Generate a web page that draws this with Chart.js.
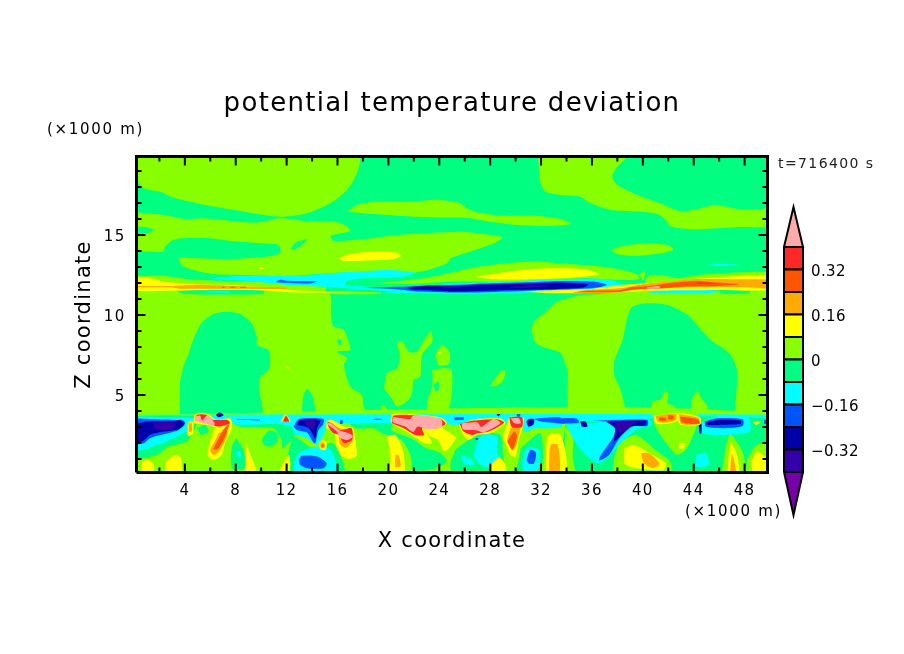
<!DOCTYPE html>
<html>
<head>
<meta charset="utf-8">
<title>potential temperature deviation</title>
<script src="https://cdn.jsdelivr.net/npm/chart.js@4"></script>
<style>
    html, body { margin: 0; padding: 0; background: #fff; }
    #wrap { position: relative; width: 904px; height: 654px; overflow: hidden; }
    #field { position: absolute; left: 0; top: 0; width: 904px; height: 654px; }
    #bar { position: absolute; left: 770px; top: 195px; width: 130px; height: 330px; }
    .note { position: absolute; font-family: "DejaVu Sans"; font-size: 15px; color: #000; white-space: nowrap; line-height: 16px; letter-spacing: 1.7px; }
</style>
</head>
<body>
<div id="wrap">
    <canvas id="field" width="904" height="654"></canvas>
    <canvas id="bar" width="130" height="330"></canvas>
    <div class="note" style="left:47px;top:121px">(×1000 m)</div>
    <div class="note" style="left:685px;top:503px">(×1000 m)</div>
    <div class="note" style="left:778px;top:155px;font-size:14px;letter-spacing:1.4px;color:#222">t=716400 s</div>
</div>
<script>
const titleText = 'potential temperature deviation';
const xTitle = 'X coordinate';
const zTitle = 'Z coordinate';

const xRange = [0.2, 49.8];
const zRange = [0.15, 19.9];
const xMajorTicks = [4, 8, 12, 16, 20, 24, 28, 32, 36, 40, 44, 48];
const xMinorTicks = [2, 6, 10, 14, 18, 22, 26, 30, 34, 38, 42, 46];
const zMajorTicks = [5, 10, 15];
const zMinorTicks = [1, 2, 3, 4, 6, 7, 8, 9, 11, 12, 13, 14, 16, 17, 18, 19];

// legend, from the bottom triangle up
const levelEdges = [-0.48, -0.4, -0.32, -0.24, -0.16, -0.08, 0, 0.08, 0.16, 0.24, 0.32, 0.4, 0.48];
const levelColors = ['#7700aa', '#3300aa', '#0000aa', '#0055ff', '#00ffff', '#00ff80', '#88ff00', '#ffff00', '#ffaa00', '#ff5500', '#ff2828', '#ffaaaa'];
const barTicks = [-0.32, -0.16, 0, 0.16, 0.32];
const barTickLabels = ['\u22120.32', '\u22120.16', '0', '0.16', '0.32'];
const barRange = [-0.553, 0.542];

const [purple, indigo, darkBlue, blue, cyan, spring, lime, yellow, orange, redOrange, red, pink] = levelColors;

// contours as flat x,z lists in km
const backgroundSpring = [[-1,21, 51,21, 51,-1, -1,-1]];
const upperLime = [
    [-1,21, 17.8,21, 17.8,19.8, 17.53,18.85, 16.75,17.81, 15.43,16.98, 13.6,16.35, 11.76,16.14, 10.2,16.25, 7.56,16.6, 4.93,16.98, 3.1,17.33, 2.05,17.7, 1,17.85, 0.47,18.12, 0.2,18.54, -1,19],
    [-1,16.46, 2.3,16.25, 4.15,15.98, 5.45,16.04, 7.55,15.89, 9.65,15.77, 11.5,16.04, 13.35,15.89, 15.7,15.83, 16.75,15.52, 17,15.25, 16.5,15.14, 15.45,14.94, 15.7,14.64, 17.55,14.69, 20.7,15, 25.65,15.2, 27,15.1, 28.95,14.85, 28.3,14.48, 26.45,13.96, 24.9,13.54, 24.6,13.23, 23.3,12.85, 22.1,12.64, 20.15,12.5, 12.8,12.3, 6.25,12.23, 3.6,12.44, -1,12.5],
    [16.75,16.46, 17.55,16.87, 19.1,17.08, 22,17.08, 23.85,17.19, 25.65,16.98, 25.95,16.77, 26.7,16.46, 28.8,16.21, 31.45,16.21, 33.55,15.98, 34.35,15.69, 32.75,15.56, 30.15,15.62, 27.5,15.89, 26.45,16.04, 24.9,16.08, 22,16.14, 18.05,16.35],
    [31.75,21, 31.9,18.43, 32.35,17.71, 33.55,17.5, 35.1,17.39, 35.9,16.98, 37.5,16.56, 39.6,16.46, 41.15,16.31, 41.8,15.94, 42.2,15.52, 44.05,15.35, 47.2,15.48, 51,15.62, 51,16.56, 47.7,16.6, 45.6,16.87, 44.55,16.66, 43,16.46, 41.7,16.87, 39.6,17.5, 38,18.12, 37.6,18.64, 38,19.27, 40,21],
    [37.5,14.06, 38.55,14.33, 40.6,14.48, 41.95,14.37, 42.4,14.1, 41.7,13.89, 39.3,13.69, 38,13.81],
    [-1,12.6, 2.3,12.44, 4.95,12.19, 10.2,12.08, 15,12, 15,11.5, -1,11.5],
    [19.1,11.98, 22.8,12.29, 24.9,12.64, 26.7,12.96, 28.8,13.19, 31.45,13.33, 34.05,13.19, 36.7,13.02, 38.55,12.77, 39.6,12.5, 39.7,12.23, 38,12.19, 35.4,12.29, 30.15,12.08, 24.9,12.08, 22.25,11.94],
    [40.15,12.19, 40.6,12.5, 41.7,12.44, 42.75,12.29, 44.3,12.5, 51,12.6, 51,11.3, 40.35,11.3],
    [39.7,12.56, 40.15,12.71, 40.05,12.19]
];
const midLime = [
    [-1,11.56, 10.2,11.45, 15.3,11.4, 15.5,9.9, 15.7,9.27, 16.5,9.06, 16.9,8.23, 17,7.81, 15.95,7.7, 16.75,7.29, 16.5,6.87, 17,5.52, 17.9,5, 18.05,4.27, 18.3,3.7, -1,3.7],
    [31.25,9.06, 31.45,9.58, 32.25,10.1, 33.3,10.83, 35.4,11.25, 51,11.31, 51,3.75, 47.3,3.75, 47.3,4.48, 47.4,6.56, 46.8,7.6, 45.35,8.43, 43.5,10, 41.95,10.62, 40.35,10.73, 39.2,10.52, 38.8,9.89, 38.4,8.43, 37.75,7.08, 37.75,6.25, 38.25,5.31, 38.5,3.75, 34.35,3.7, 34.05,5.1, 34.1,6.35, 33.55,7.6, 32.75,7.85, 31.6,8.23],
    [19.65,5.41, 19.9,6.35, 20.7,6.66, 20.9,7.5, 20.7,8.23, 21.1,8.33, 21.6,7.7, 22.25,7.7, 22.8,8.43, 23.35,8.96, 23.45,8.33, 22.65,7.5, 22.5,6.14, 22,5.93, 21.85,5.1, 21.6,4.69, 20.7,4.27, 20.15,4.89],
    [19.4,4.27, 19.7,4.31, 20,3.89, 19.65,3.85],
    [23.45,6.56, 24.1,6.66, 24.95,6.56, 24.95,4.89, 24.5,3.75, 23.1,3.75, 23.1,4.69, 23.45,5.52],
    [23.7,7.5, 24.2,8.12, 24.6,7.91, 24.85,7.6, 24.75,6.93, 23.95,6.87],
    [28.05,5.62, 28.85,6.5, 29.2,6.46, 28.95,5.83, 28.3,5.52],
    [40.7,3.75, 40.75,4.58, 41.4,4.69, 41.7,5.21, 42,5.1, 41.95,4.48, 42.5,4.27, 42.75,3.75],
    [43.8,3.75, 43.85,4.69, 44.3,5.21, 44.6,4.79, 45.1,4.27, 45.1,3.75]
];
const upperSpring = [
    [-1,15.56, 1,15.48, 1.55,15.31, 1,15.1, -1,15.06],
    [-1,14, 1.25,13.96, 2.3,13.96, 2.45,14.27, 3.1,14.69, 4.15,14.81, 6,14.79, 8.1,14.58, 10.7,14.44, 11.35,14.37, 11.55,13.96, 10.95,13.69, 7.55,13.48, 4.95,13.54, 3.6,13.54, 3.75,13.12, 4.65,12.81, 6.25,12.56, 8.6,12.5, 12.3,12.44, 15.95,12.64, 18.05,12.5, 16.75,12.08, 10.2,12.08, 4.95,12.19, 2.3,12.44, -1,12.56],
    [12.3,14.1, 12.7,14.52, 13.6,14.73, 13.35,14.48, 12.55,14.06],
    [3.6,3.75, 3.6,4.89, 3.6,5.62, 3.85,6.66, 4.35,7.7, 4.65,8.43, 5.3,9.48, 6.25,10.06, 7.3,10.2, 8.35,10.06, 9.25,9.48, 9.65,8.64, 9.7,8.12, 10.6,7.77, 10.65,6.66, 9.9,6.04, 9.85,5.31, 10,3.75],
    [13.2,3.75, 13.3,4.89, 13.6,5.37, 14.05,4.89, 14.2,3.75],
    [16,8.48, 16.3,8.43, 16.25,8.12, 16.05,8.16],
    [23.55,5.62, 23.95,5.83, 23.95,5.31, 23.7,5.21]
];
const upperYellow = [
    [16.1,13.54, 17,13.81, 19.1,13.96, 20.7,13.89, 21,13.69, 20.4,13.48, 18.05,13.39, 16.5,13.37],
    [9.9,12.94, 10.2,12.94, 10.2,12.87, 9.9,12.87],
    [26.85,12.39, 30.15,12.77, 32.75,12.91, 35.4,12.85, 36.55,12.56, 34.85,12.35, 31.45,12.23, 28.3,12.23],
    [11.95,6.81, 12.25,6.73, 12.15,6.56],
    [23.9,7.7, 24.15,7.7, 24.15,7.6, 23.9,7.6]
];
const upperCyan = [
    [6.1,12.29, 8.35,12.44, 12.8,12.44, 15.95,12.64, 20.15,12.81, 22.1,12.64, 21.2,12.39, 18.05,12.29, 16.75,12.12, 16.6,11.87, 17.8,11.81, 20.7,11.56, 21.6,11.43, 20.7,11.46, 17.55,11.6, 15.7,11.73, 12.3,11.87, 8.85,12.14, 6.25,12.23],
    [23.3,11.81, 24.9,11.94, 26.45,11.98, 30.15,12.12, 33.3,12.23, 37.2,12.23, 38.4,11.87, 36.15,11.6, 32.25,11.46, 29.2,11.35, 24.9,11.31, 19.6,11.4, 20.7,11.46],
    [45.1,13.12, 46.15,13.19, 47.5,13.12, 45.9,13.06],
    [48.5,13.1, 49.55,13.1, 49.55,13.06, 48.5,13.06]
];
const upperBlue = [
    [11.2,12.08, 11.5,12.19, 11.95,12.14, 14.4,12.1, 14,11.98, 12.55,11.98, 11.25,12.02],
    [17.8,11.69, 21.5,11.77, 23.3,11.85, 24.9,11.87, 28.05,11.98, 31.2,12.04, 33.3,12.12, 36.15,12.08, 37.15,11.87, 35.9,11.66, 32.75,11.56, 29.1,11.46, 27,11.4, 24.9,11.4, 22.25,11.46, 20.7,11.6]
];
const upperDarkBlue = [
    [21.5,11.73, 22.8,11.81, 24.9,11.83, 28.05,11.91, 31.2,11.98, 33.55,12.02, 35.7,11.91, 35.4,11.73, 32.75,11.6, 29.6,11.56, 27.1,11.5, 24.9,11.46, 23.7,11.52, 21.75,11.6]
];
const upperIndigo = [
    [24.1,11.73, 24.9,11.79, 26.3,11.77, 24.9,11.66],
    [29.6,11.77, 31.2,11.87, 32.75,11.81, 31.2,11.71, 29.6,11.69]
];
const stripSpring = [
    [3.35,11.48, 5,11.54, 10.2,11.52, 10.2,11.31, 3.9,11.31],
    [45.9,11.56, 48.5,11.48, 48.25,11.33, 46.15,11.33]
];
const stripLime = [[15.5,11.48, 19.4,11.4, 19.4,11.31, 15.5,11.31]];
const stripCyan = [
    [5.7,11.46, 7.55,11.48, 7.55,11.4, 5.85,11.4],
    [40.5,11.46, 41.7,11.56, 45.35,11.6, 46.15,11.46, 44.85,11.35, 40.6,11.35]
];
const bandYellow = [
    [-1,12.39, 1,12.35, 2.3,12.08, 4.95,11.91, 7.55,11.87, 10.2,11.73, 12.3,11.56, 15.45,11.46, 17.15,11.46, 16.5,11.4, 12.8,11.4, 9.65,11.56, 4.95,11.56, -1,11.56],
    [30.55,11.46, 31.45,11.5, 34.05,11.56, 36.15,11.64, 38.25,11.87, 41.15,12.02, 44.85,12.29, 51,12.44, 51,11.62, 45.9,11.56, 41.15,11.52, 38,11.4, 32.75,11.35]
];
const bandOrange = [
    [-1,11.81, 2.95,11.81, 4.65,11.89, 6.25,11.87, 8.85,11.77, 12,11.71, 12,11.62, 8.35,11.64, 3.6,11.64, 2.95,11.73, -1,11.73],
    [34.5,11.37, 35.4,11.54, 38.25,11.66, 39.6,11.87, 41.95,12.08, 43.8,12.23, 47.2,12.23, 51,12.14, 51,11.66, 48,11.73, 43.25,11.73, 41.15,11.66, 38.8,11.56, 38.25,11.41]
];
const bandRedOrange = [
    [6.9,11.75, 7.15,11.75, 7.15,11.69, 6.9,11.69],
    [7.55,11.75, 7.95,11.75, 7.95,11.69, 7.55,11.69],
    [8.35,11.75, 8.85,11.75, 8.85,11.69, 8.35,11.69],
    [34.5,11.41, 35.4,11.5, 38.25,11.56, 39.05,11.73, 40.6,11.81, 41.95,11.98, 44.3,12.12, 45.9,12.02, 47.6,11.91, 45.9,11.81, 43.25,11.77, 41.7,11.66, 39.6,11.6, 38,11.43]
];
const bandRed = [[44.3,12.02, 46,11.98, 44.3,11.94]];
const bandPink = [[40.35,11.73, 41.3,11.81, 41.3,11.66, 40.35,11.64]];

const lowLime = [[-1,3.75, 51,3.75, 51,-1, -1,-1]];
const lowStrip = [[-1,3.75, 51,3.75, 51,3.3, -1,3.3]];
const lowSpring = [
    [-1,3.65, 4.95,3.65, 4.8,2.92, 4.15,2.09, 2.7,1.77, 1.8,1.25, -1,0.98],
    [4.95,2.92, 5.6,3.13, 5.85,2.71, 5.3,2.5],
    [8.05,2.29, 8.6,1.56, 8.75,0.42, 7.7,0.42, 7.7,1.77],
    [10.05,2.19, 10.6,2.77, 11.3,2.6, 11.3,2.09, 10.7,1.77, 10.2,1.88],
    [7.8,3.2, 12.6,3.1, 12.6,2.4, 12,1.9, 11.7,1.6, 11.6,2.2, 11,2.9, 9.5,3, 8.5,3],
    [12,1, 12.6,2.4, 14,1.7, 15.6,2, 16.2,1.3, 16.5,0.1, 12.2,0.1],
    [16.9,3.2, 20.3,3.2, 20.2,2.8, 22,2.2, 22.9,1.7, 24,1.4, 24.6,0.9, 24,0.5, 22.5,0.2, 22,0.1, 21.7,1.3, 21,2.2, 19.5,2.6, 18.85,2.9, 17.5,2.9],
    [25.3,1.6, 26.3,2.2, 27,2.6, 28.8,2.5, 29,1.3, 29.1,0.2, 25,0.2, 24.9,0.8],
    [30.4,1.67, 31.95,2.6, 31.95,0.1, 30.1,0.1, 30.25,0.94],
    [33.9,3.3, 51,3.3, 51,-1, 33.9,-1]
];
const lowHaloLime = [
    [38.15,2, 39.45,2.5, 41,1.56, 42.2,0.73, 41.95,-1, 37.8,-1, 37.75,1.04],
    [33.9,3, 34.5,2.5, 34.5,1, 35,-1, 33.9,-1],
    [40.75,3.8, 44.2,3.8, 44.2,3, 43.4,1.6, 42.7,1.25, 42.05,1.77, 41,3],
    [46,-1, 46.8,2.5, 47.9,1.3, 48,-1],
    [48.2,1, 49,1.9, 51,1.6, 51,-1, 48.2,-1]
];
const lowCyan = [
    [-1,3.65, 4.65,3.54, 4.65,3.13, 3.9,2.6, 2.55,2.09, 1.5,1.77, 0.75,1.56, -1,1.56],
    [7.8,3.65, 12.55,3.65, 12.55,3.02, 11.25,3.23, 9.4,3.13, 8.6,3.13, 7.8,3.19],
    [8.05,1.46, 8.35,1.46, 8.4,1.15, 8.1,1.15],
    [12.4,3.44, 14.9,3.44, 15.05,2.81, 14.4,1.88, 13.6,2.29, 12.55,2.6],
    [12.55,0.73, 12.95,1.36, 14.4,1.77, 15.45,1.56, 15.95,0.52, 15.45,-1, 12.8,-1],
    [27,2.1, 27.4,2.5, 28.55,2.4, 28.55,1.56, 28.7,0.73, 27.5,0.52, 26.7,1.15, 26.9,1.77],
    [25.65,1.25, 26.5,1, 26.7,0.63, 26,0.7],
    [24.4,3.7, 25.9,3.7, 25.9,3.2, 24.6,3.2],
    [30.5,0.73, 30.9,1.67, 31.85,1.56, 31.85,0.52, 30.9,-1],
    [30.65,3.7, 33.6,3.7, 33.6,3, 31.5,2.9, 30.65,2.7],
    [33.95,3.13, 35.8,3.23, 40.35,3.54, 40.75,3.13, 39.45,2.81, 38.15,1.88, 37.35,1.15, 36.55,0.73, 35.65,1.15, 34.75,1.98],
    [44.45,3.23, 45.75,3.65, 48.25,3.65, 48.4,2.71, 46.3,2.5, 44.7,2.6],
    [44.2,1.25, 44.95,1.36, 45.2,0.63, 44.2,0.52]
];
const lowBlue = [
    [-1,3.54, 1.25,3.5, 3.9,3.4, 4,3.23, 3.5,2.81, 2.3,2.54, 1.25,2.29, 0.75,1.98, -1,1.94],
    [8.1,3.5, 9.9,3.46, 9.9,3.4, 8.1,3.44],
    [12.55,3.02, 12.95,3.5, 14.9,3.5, 14.85,3.13, 14.5,2.81, 14.25,1.98, 14.05,2.09, 13.6,2.65, 12.8,2.81],
    [12.95,0.94, 13.2,1.19, 14.4,1.15, 15.15,0.73, 14.9,0.42, 13.6,0.42, 13.05,0.63],
    [16.2,3.4, 16.4,3.4, 16.4,3.2, 16.2,3.2],
    [18.85,3.5, 19.5,3.5, 19.5,3.44, 18.85,3.44],
    [25.2,3.6, 25.9,3.6, 25.9,3.45, 25.2,3.45],
    [26.85,2.3, 27.05,2.3, 27.05,2.19, 26.85,2.19],
    [30.1,3.8, 30.35,3.8, 30.35,3.6, 30.1,3.6],
    [30.85,0.94, 31.15,1.56, 31.6,1.4, 31.45,0.73, 31.05,0.69],
    [31.45,3.5, 33.5,3.6, 33.5,3.27, 32,3.34],
    [33.15,3.54, 34.75,3.54, 35,3.27, 33.15,3.23],
    [36.05,3.4, 40.35,3.44, 40.35,3.06, 39.2,3.02, 38.15,2.29, 37.35,1.25, 36.55,0.9, 36.7,1.25, 37.75,2.5, 37.75,3.23],
    [44.85,3.34, 45.75,3.54, 47.85,3.48, 47.85,3.06, 46.3,2.92, 44.95,3.02],
    [49.55,3.44, 49.85,3.44, 49.85,3.19, 49.55,3.19]
];
const lowDarkBlue = [
    [-1,2.92, 1,3.34, 3.1,3.34, 3.6,3.44, 4,3.19, 3.5,2.86, 2.3,2.71, 1.25,2.5, 0.6,2.09, -1,2.02],
    [6.45,3.75, 6.7,3.9, 7.05,3.75, 6.65,3.6],
    [12.8,3.13, 13.05,3.44, 14.65,3.44, 14.4,2.92, 14.25,2.29, 13.75,2.92],
    [28.5,3.8, 28.8,3.8, 28.65,3.65],
    [30.85,3.34, 31,3.48, 31.45,3.48, 31.4,3.15, 31,3.02],
    [35.1,3.34, 35.5,3.34, 35.65,3.02, 35.2,3.02],
    [37.1,3.34, 40.25,3.4, 40.2,3.1, 39.05,3.02, 37.75,2.09, 37.8,2.92],
    [44.4,3.2, 44.6,3.2, 44.6,2.6, 44.45,2.6],
    [44.95,3.27, 46,3.44, 47.7,3.4, 47.7,3.19, 46.3,3.13, 45,3.13]
];
const lowIndigo = [
    [1.5,3.27, 3.25,3.27, 3.1,2.86, 2.3,2.81, 1.65,2.92],
    [13.35,3.4, 14.25,3.4, 14.1,2.86, 13.6,3.02],
    [37.9,3.34, 39.6,3.34, 38.9,3.02, 38.25,2.6, 37.8,3.02]
];
const lowYellow = [
    [0.6,0.83, 1.15,0.94, 1.6,0.52, 1.25,-1, 0.7,-1],
    [2.45,0.83, 3.25,1.25, 3.7,1.04, 3.75,-1, 2.55,-1],
    [4.15,2.6, 4.3,3.34, 4.65,3.34, 4.65,2.6, 4.3,2.4],
    [4.65,3.23, 4.8,3.81, 5.7,3.85, 6.5,3.44, 7.55,3.54, 7.7,3.13, 6.75,2.92, 5.7,3.13],
    [6.35,2.92, 7.55,3.23, 7.7,2.92, 7.15,1.98, 6.9,1.25, 6.25,0.94, 5.8,1.25, 5.95,1.98],
    [8.85,1.98, 10.05,-1, 8.75,-1],
    [10.6,-1, 12.15,1.25, 12.3,0.73, 12,-1],
    [11.5,3.34, 11.9,3.81, 12.3,3.34],
    [14.5,2, 14.8,2.19, 15.15,2, 15.05,1.56, 14.65,1.6],
    [15.15,3.4, 15.55,3.44, 16.5,3.02, 17.2,2.9, 17.4,2.2, 17.5,1.2, 16.9,1, 16.35,1.15, 15.95,1.67, 15.7,2.81, 15.15,2.92],
    [19.9,2.4, 20.55,2.5, 21.2,1.36, 21.2,-1, 20.15,-1, 20.15,1.25],
    [22.8,2.9, 24,3, 24.9,2.6, 25.3,2.3, 24.7,1.6, 24.35,1.5, 23.9,2.2, 23.3,2.4],
    [20.15,3.44, 20.3,3.81, 21.7,3.81, 24.1,3.6, 24.6,3.23, 23.8,2.81, 22.8,2.92, 23.45,2, 22.8,2, 21.45,2.71, 20.3,3.23],
    [25.55,3.13, 26.7,3.48, 28.8,3.54, 29.2,3.23, 28,2.6, 27,2.5, 26.3,2.19, 25.9,2.5],
    [29.5,3.65, 30.65,3.54, 30.25,2.19, 30,1.15, 29.6,1.25, 29.2,1.98, 29,2.29],
    [28.15,0.73, 28.7,1.1, 29.2,0.63, 29.1,-1, 28.15,-1],
    [32.35,-1, 32.5,2.4, 33.15,2.6, 33.6,2.4, 34,1, 33.9,-1],
    [38.55,1.67, 39.3,1.88, 40.75,1.25, 41.8,0.73, 41.55,0.27, 38.65,0.63],
    [42.85,1.98, 43.25,1.98, 43.25,1.67, 42.85,1.67],
    [40.85,3.69, 42.7,3.85, 42.8,3.44, 41.95,3.19, 41,3.23],
    [42.8,3.9, 44.5,3.6, 44.5,3.13, 43,3.13, 42.8,3.34],
    [48.65,3.34, 49.3,3.34, 48.9,3.13],
    [46.55,-1, 46.9,1.98, 47.45,1.15, 47.6,-1],
    [48.5,0.83, 49,1.46, 49.75,1.04, 51,0.5, 51,-1, 49,-1]
];
const lowOrange = [
    [4.3,2.71, 4.35,3.23, 4.55,3.19, 4.55,2.71],
    [6.65,2.6, 7.3,2.81, 7.3,2.4, 6.75,1.56, 6.25,1.25, 6,1.56, 6.35,2.09],
    [14.65,1.95, 14.85,2.05, 15,1.9, 14.95,1.7, 14.7,1.7],
    [15.4,3.3, 16.2,2.9, 17,2.85, 17.2,2.2, 16.7,1.7, 16.2,1.9, 16,2.8, 15.4,3],
    [20.55,1.25, 20.8,1.25, 20.95,0.55, 20.55,0.5],
    [29.6,2.92, 30.4,3.34, 30.1,1.98, 29.8,1.56, 29.35,2.09],
    [32.6,0.2, 32.75,1.88, 33.3,1.88, 33.45,0.2],
    [39.85,1.36, 40.5,1.36, 41.3,0.73, 40.85,0.42, 40.1,0.73],
    [41,3.69, 42.6,3.81, 42.6,3.44, 41.8,3.27, 41.15,3.34],
    [42.85,3.8, 44.4,3.55, 44.45,3.2, 43,3.2],
    [46.85,0.15, 47,1.3, 47.2,0.8, 47.3,0.15]
];
const lowRedOrange = [
    [7,2.81, 7.5,3.19, 7.05,2.19, 6.65,1.67, 6.25,1.6, 6.65,2.29],
    [14.75,1.9, 14.9,1.9, 14.9,1.75, 14.75,1.75],
    [29.35,2.09, 29.9,2.71, 30.1,2.4, 29.75,1.56],
    [41.3,3.6, 41.8,3.55, 41.8,3.4, 41.3,3.4],
    [42,3.75, 42.4,3.7, 42.4,3.5, 42,3.5],
    [42.9,3.65, 44.3,3.48, 44.45,3.19, 43.1,3.27]
];
const lowRed = [
    [4.8,3.44, 4.95,3.75, 5.7,3.75, 6.25,3.44, 7.3,3.44, 7.55,3.23, 6.65,3.02, 5.85,3.19],
    [11.7,3.34, 11.95,3.69, 12.2,3.34],
    [15.2,3.34, 15.6,3.2, 16.2,2.81, 17.1,2.92, 17.15,2.2, 16.5,2, 16.1,2.5, 15.7,2.6, 15.3,3],
    [20.3,3.34, 20.4,3.71, 21.7,3.75, 24.1,3.5, 24.5,3.19, 23.8,2.92, 22.65,2.92, 22.8,2.5, 22.1,2.5, 21.2,2.92, 20.3,3.23],
    [25.6,3.19, 26.7,3.4, 28.55,3.48, 29.1,3.27, 27.9,2.71, 27,2.6, 26.6,2.5, 25.9,2.71],
    [29.5,3.6, 30.5,3.6, 30.5,3, 29.7,3]
];
const lowPink = [
    [4.85,3.65, 5.2,3.71, 5.35,3.4, 5.8,3.75, 6.35,3.23, 6.25,3.06, 5.6,3.23, 4.8,3.38],
    [15.2,3.27, 15.55,3.19, 16.1,2.81, 16.9,2.6, 17.2,2.4, 16.8,2.19, 16.2,2.3, 15.95,2.71, 15.3,3.1],
    [20.4,3.62, 21.7,3.5, 21.95,3.72, 23.3,3.66, 24.2,3.42, 24.15,3, 23,2.85, 22.3,3.02, 21.95,2.68, 21.3,3.02, 20.35,3.3],
    [25.75,3.22, 27,3.28, 27.3,3, 28.25,3.5, 28.8,3.25, 27.85,2.78, 27.4,2.66, 27,2.78, 26.25,2.8, 25.85,2.85],
    [29.6,3.54, 30.25,3.54, 30.4,3.23, 29.9,3.23]
];

// paint order, later entries cover earlier ones
const paintOrder = [
    [spring, backgroundSpring],
    [lime, upperLime], [lime, midLime], [spring, upperSpring], [yellow, upperYellow],
    [cyan, upperCyan], [blue, upperBlue], [darkBlue, upperDarkBlue], [indigo, upperIndigo],
    [spring, stripSpring], [lime, stripLime], [cyan, stripCyan],
    [yellow, bandYellow], [orange, bandOrange], [redOrange, bandRedOrange], [red, bandRed], [pink, bandPink],
    [lime, lowLime], [cyan, lowStrip], [spring, lowSpring], [lime, lowHaloLime], [cyan, lowCyan],
    [blue, lowBlue], [darkBlue, lowDarkBlue], [indigo, lowIndigo],
    [yellow, lowYellow], [orange, lowOrange], [redOrange, lowRedOrange], [red, lowRed], [pink, lowPink]
];

function ringPoints(ring) {
    const points = [];
    for (let i = 0; i < ring.length; i += 2) {
        points.push({ x: ring[i], y: ring[i + 1] });
    }
    points.push(points[0]);
    return points;
}

function tickSet(xs, zs, length, rotation) {
    return {
        data: xs.flatMap(x => zs.map(z => ({ x, y: z }))),
        showLine: false,
        pointStyle: 'line',
        pointRadius: length,
        pointRotation: rotation,
        pointBorderColor: '#000',
        pointBorderWidth: 2,
        clip: 0
    };
}

const contourSets = paintOrder.flatMap(([color, rings]) => rings.map(ring => ({
    data: ringPoints(ring),
    fill: 'shape',
    backgroundColor: color,
    borderWidth: 0,
    pointRadius: 0,
    tension: 0.25,
    clip: 0
})));

const overlaySets = [
    tickSet(xMajorTicks, zRange, 9, 90),
    tickSet(xMinorTicks, zRange, 5, 90),
    tickSet(xRange, zMajorTicks, 9, 0),
    tickSet(xRange, zMinorTicks, 5, 0),
    {
        data: ringPoints([xRange[0], zRange[0], xRange[1], zRange[0], xRange[1], zRange[1], xRange[0], zRange[1]]),
        fill: false,
        borderColor: '#000',
        borderWidth: 3,
        pointRadius: 0,
        clip: false
    }
];

// the stroke font of the original runs wider than DejaVu
const spacedText = spacing => ({
    id: 'spacedText',
    beforeDraw: chart => { chart.ctx.letterSpacing = spacing; }
});

Chart.defaults.font.family = '"DejaVu Sans"';
Chart.defaults.color = '#000';

new Chart(document.getElementById('field'), {
    type: 'line',
    data: {
        // the first dataset is painted last
        datasets: [...overlaySets.reverse(), ...contourSets.reverse()]
    },
    plugins: [spacedText('1.3px')],
    options: {
        responsive: false,
        animation: false,
        events: [],
        plugins: {
            legend: { display: false },
            tooltip: { enabled: false },
            title: {
                display: true,
                text: titleText,
                font: { size: 26, weight: 'normal', lineHeight: 1.2 },
                padding: { top: 88.4, bottom: 36.9 }
            }
        },
        scales: {
            x: {
                type: 'linear',
                min: xRange[0],
                max: xRange[1],
                grid: { display: false, drawTicks: false },
                border: { display: false },
                afterBuildTicks: axis => { axis.ticks = xMajorTicks.map(value => ({ value })); },
                afterFit: axis => { axis.height = 181.5; },
                ticks: { font: { size: 15 }, padding: 10, maxRotation: 0, autoSkip: false, callback: v => String(v) },
                title: { display: true, text: xTitle, font: { size: 21, weight: 'normal', lineHeight: 1.2 }, padding: { top: 0, bottom: 100 } }
            },
            y: {
                type: 'linear',
                min: zRange[0],
                max: zRange[1],
                grid: { display: false, drawTicks: false },
                border: { display: false },
                afterBuildTicks: axis => { axis.ticks = zMajorTicks.map(value => ({ value })); },
                afterFit: axis => { axis.width = 136.5; },
                ticks: { font: { size: 15 }, padding: 11, labelOffset: 2, autoSkip: false, callback: v => String(v) },
                title: { display: true, text: zTitle, font: { size: 21, weight: 'normal', lineHeight: 1.2 }, padding: { top: 72, bottom: 0 } }
            },
            // empty axis, holds the margin for the colour bar
            side: {
                type: 'linear',
                position: 'right',
                grid: { display: false, drawTicks: false },
                border: { display: false },
                ticks: { display: false },
                afterFit: axis => { axis.width = 136.5; }
            }
        }
    }
});

// colour bar
const barSets = levelColors.map((color, i) => {
    const lo = levelEdges[i];
    const hi = levelEdges[i + 1];
    let ring = [0, lo, 1, lo, 1, hi, 0, hi];
    if (i === 0) ring = [0, hi, 1, hi, 0.5, barRange[0]];
    if (i === levelColors.length - 1) ring = [0, lo, 1, lo, 0.5, barRange[1]];
    return {
        data: ringPoints(ring),
        fill: 'shape',
        backgroundColor: color,
        borderColor: '#000',
        borderWidth: 2,
        pointRadius: 0,
        clip: false
    };
});

new Chart(document.getElementById('bar'), {
    type: 'line',
    data: { datasets: barSets },
    plugins: [spacedText('0.4px')],
    options: {
        responsive: false,
        animation: false,
        events: [],
        layout: { padding: { left: 14, top: 12, bottom: 10 } },
        plugins: { legend: { display: false }, tooltip: { enabled: false } },
        scales: {
            x: { type: 'linear', min: 0, max: 1, display: false },
            y: {
                type: 'linear',
                position: 'right',
                min: barRange[0],
                max: barRange[1],
                grid: { display: false, drawTicks: false },
                border: { display: false },
                afterBuildTicks: axis => { axis.ticks = barTicks.map(value => ({ value })); },
                afterFit: axis => { axis.width = 97; axis.paddingTop = 0; axis.paddingBottom = 0; },
                ticks: {
                    font: { size: 15 },
                    padding: 8,
                    labelOffset: 3,
                    autoSkip: false,
                    callback: v => barTickLabels[barTicks.indexOf(v)]
                }
            }
        }
    }
});
</script>
</body>
</html>
